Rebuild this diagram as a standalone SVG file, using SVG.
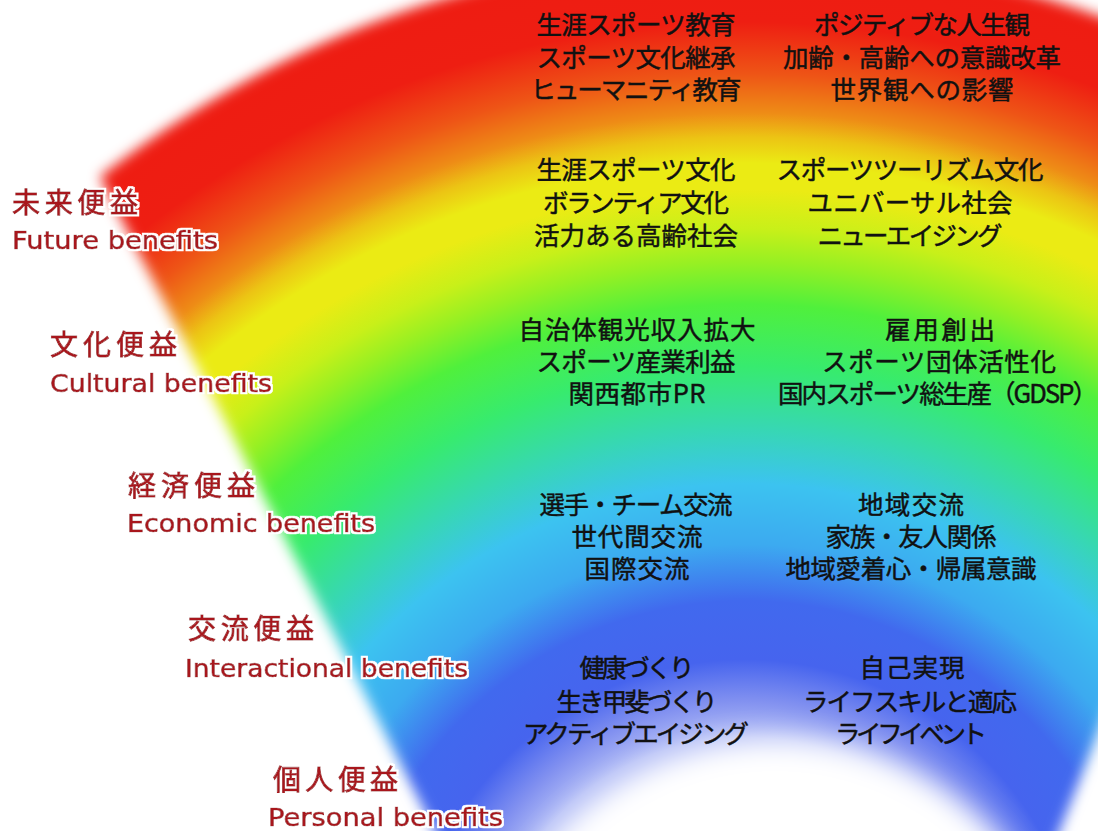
<svg xmlns="http://www.w3.org/2000/svg" width="1098" height="831" viewBox="0 0 1098 831">
<defs>
  <radialGradient id="rainbow" gradientUnits="userSpaceOnUse" cx="745" cy="999" r="1045">
    <stop offset="0" stop-color="#B4BEF6"/>
    <stop offset="0.25" stop-color="#B4BEF6"/>
    <stop offset="0.285" stop-color="#8291F0"/>
    <stop offset="0.325" stop-color="#4664EE"/>
    <stop offset="0.381" stop-color="#4169EE"/>
    <stop offset="0.435" stop-color="#3CAAF0"/>
    <stop offset="0.493" stop-color="#3CC3F0"/>
    <stop offset="0.545" stop-color="#37D7B4"/>
    <stop offset="0.606" stop-color="#37EB6E"/>
    <stop offset="0.665" stop-color="#50F03C"/>
    <stop offset="0.705" stop-color="#96F023"/>
    <stop offset="0.737" stop-color="#C8F019"/>
    <stop offset="0.775" stop-color="#EBEB14"/>
    <stop offset="0.80" stop-color="#EBEB14"/>
    <stop offset="0.825" stop-color="#ECC414"/>
    <stop offset="0.848" stop-color="#EE8C16"/>
    <stop offset="0.885" stop-color="#EE5516"/>
    <stop offset="0.935" stop-color="#EE1E12"/>
    <stop offset="1" stop-color="#EE1C12"/>
  </radialGradient>
  <clipPath id="outerArc"><circle cx="745" cy="999" r="1045"/></clipPath>
  <filter id="soft" filterUnits="userSpaceOnUse" x="-300" y="-300" width="1800" height="1900">
    <feGaussianBlur stdDeviation="6.5"/>
  </filter>
  <filter id="softer" filterUnits="userSpaceOnUse" x="300" y="500" width="1000" height="700">
    <feGaussianBlur stdDeviation="14"/>
  </filter>
  <filter id="halo" x="-5%" y="-20%" width="110%" height="140%">
    <feMorphology in="SourceAlpha" operator="dilate" radius="1.6" result="d"/>
    <feFlood flood-color="#ffffff"/>
    <feComposite in2="d" operator="in" result="w"/>
    <feMerge><feMergeNode in="w"/><feMergeNode in="SourceGraphic"/></feMerge>
  </filter>
  <mask id="fanMask" maskUnits="userSpaceOnUse" x="0" y="0" width="1098" height="831">
    <g filter="url(#soft)">
      <polygon points="787,1519 -93,-200 1468,-200" clip-path="url(#outerArc)" fill="#fff"/>
    </g>
  </mask>
  <style>
    .jp { font-family: "Noto Sans CJK JP", "Noto Sans CJK SC", sans-serif; font-size: 28px; fill: #A8141C; stroke: #A8141C; stroke-width: 0.9px; filter: url(#halo); }
    .en { font-family: "DejaVu Sans", "Liberation Sans", sans-serif; font-size: 25px; fill: #A8141C; stroke: #A8141C; stroke-width: 0.7px; filter: url(#halo); }
    .it { font-family: "Noto Sans CJK JP", "Noto Sans CJK SC", sans-serif; font-size: 25.5px; fill: #111; stroke: #111; stroke-width: 0.45px; text-anchor: middle; }
  </style>
</defs>
<rect width="1098" height="831" fill="#fff"/>
<g id="rainbow-fan">
  <rect width="1098" height="831" fill="url(#rainbow)" mask="url(#fanMask)"/>
  <circle cx="775" cy="1040" r="300" fill="#fff" filter="url(#softer)"/>
</g>

<g id="label-future">
  <text class="jp" x="12" y="213" textLength="126" lengthAdjust="spacing">未来便益</text>
  <text class="en" x="12" y="249" textLength="206" lengthAdjust="spacingAndGlyphs">Future benefits</text>
</g>
<g id="label-cultural">
  <text class="jp" x="50" y="355" textLength="127" lengthAdjust="spacing">文化便益</text>
  <text class="en" x="50" y="392" textLength="222" lengthAdjust="spacingAndGlyphs">Cultural benefits</text>
</g>
<g id="label-economic">
  <text class="jp" x="128" y="496" textLength="127" lengthAdjust="spacing">経済便益</text>
  <text class="en" x="127" y="532" textLength="248" lengthAdjust="spacingAndGlyphs">Economic benefits</text>
</g>
<g id="label-interactional">
  <text class="jp" x="188" y="639" textLength="126" lengthAdjust="spacing">交流便益</text>
  <text class="en" x="185" y="677" textLength="283" lengthAdjust="spacingAndGlyphs">Interactional benefits</text>
</g>
<g id="label-personal">
  <text class="jp" x="273" y="790" textLength="125" lengthAdjust="spacing">個人便益</text>
  <text class="en" x="268" y="826" textLength="235" lengthAdjust="spacingAndGlyphs">Personal benefits</text>
</g>

<g id="future-left">
  <text class="it" x="636" y="34" textLength="199" lengthAdjust="spacing">生涯スポーツ教育</text>
  <text class="it" x="636" y="67" textLength="199" lengthAdjust="spacing">スポーツ文化継承</text>
  <text class="it" x="636" y="99" textLength="211" lengthAdjust="spacing">ヒューマニティ教育</text>
</g>
<g id="future-right">
  <text class="it" x="922" y="34" textLength="216" lengthAdjust="spacing">ポジティブな人生観</text>
  <text class="it" x="922" y="67" textLength="278" lengthAdjust="spacing">加齢・高齢への意識改革</text>
  <text class="it" x="922" y="99" textLength="183" lengthAdjust="spacing">世界観への影響</text>
</g>
<g id="cultural-left">
  <text class="it" x="636" y="179" textLength="199" lengthAdjust="spacing">生涯スポーツ文化</text>
  <text class="it" x="636" y="212" textLength="186" lengthAdjust="spacing">ボランティア文化</text>
  <text class="it" x="636" y="245" textLength="204" lengthAdjust="spacing">活力ある高齢社会</text>
</g>
<g id="cultural-right">
  <text class="it" x="910" y="179" textLength="267" lengthAdjust="spacing">スポーツツーリズム文化</text>
  <text class="it" x="910" y="212" textLength="205" lengthAdjust="spacing">ユニバーサル社会</text>
  <text class="it" x="910" y="245" textLength="185" lengthAdjust="spacing">ニューエイジング</text>
</g>
<g id="economic-left">
  <text class="it" x="637" y="339" textLength="237" lengthAdjust="spacing">自治体観光収入拡大</text>
  <text class="it" x="636" y="371" textLength="199" lengthAdjust="spacing">スポーツ産業利益</text>
  <text class="it" x="637" y="403" textLength="137" lengthAdjust="spacing">関西都市PR</text>
</g>
<g id="economic-right">
  <text class="it" x="940" y="339" textLength="110" lengthAdjust="spacing">雇用創出</text>
  <text class="it" x="939" y="371" textLength="234" lengthAdjust="spacing">スポーツ団体活性化</text>
  <text class="it" x="938" y="403" textLength="320" lengthAdjust="spacing">国内スポーツ総生産（GDSP）</text>
</g>
<g id="interactional-left">
  <text class="it" x="636" y="514" textLength="193" lengthAdjust="spacing">選手・チーム交流</text>
  <text class="it" x="637" y="546" textLength="131" lengthAdjust="spacing">世代間交流</text>
  <text class="it" x="637" y="578" textLength="105" lengthAdjust="spacing">国際交流</text>
</g>
<g id="interactional-right">
  <text class="it" x="911" y="514" textLength="106" lengthAdjust="spacing">地域交流</text>
  <text class="it" x="911" y="546" textLength="171" lengthAdjust="spacing">家族・友人関係</text>
  <text class="it" x="911" y="578" textLength="251" lengthAdjust="spacing">地域愛着心・帰属意識</text>
</g>
<g id="personal-left">
  <text class="it" x="637" y="677" textLength="115" lengthAdjust="spacing">健康づくり</text>
  <text class="it" x="637" y="711" textLength="161" lengthAdjust="spacing">生き甲斐づくり</text>
  <text class="it" x="636" y="743" textLength="226" lengthAdjust="spacing">アクティブエイジング</text>
</g>
<g id="personal-right">
  <text class="it" x="912" y="677" textLength="105" lengthAdjust="spacing">自己実現</text>
  <text class="it" x="910" y="711" textLength="214" lengthAdjust="spacing">ライフスキルと適応</text>
  <text class="it" x="911" y="743" textLength="152" lengthAdjust="spacing">ライフイベント</text>
</g>
</svg>
